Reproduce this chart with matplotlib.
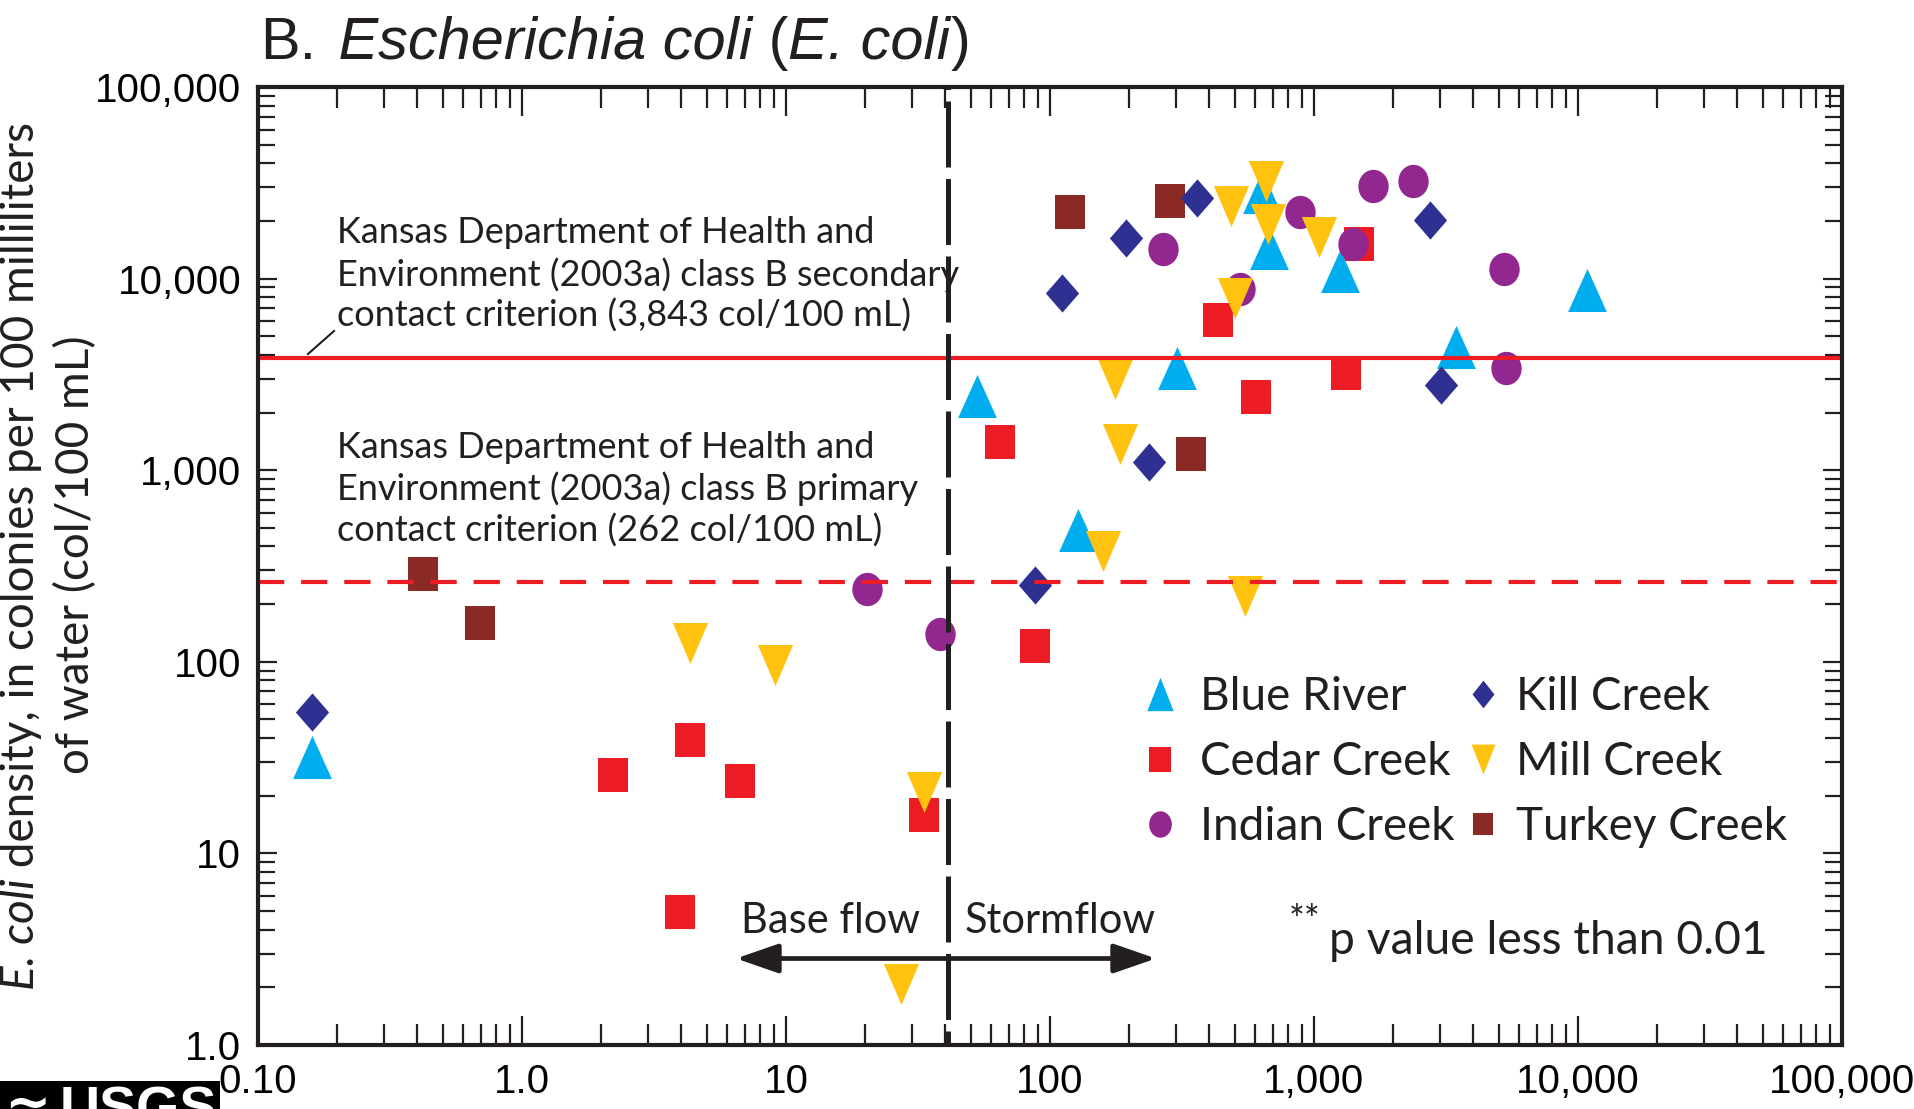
import matplotlib
matplotlib.use("Agg")
import numpy as np
import matplotlib.pyplot as plt
from matplotlib.lines import Line2D
from matplotlib.patches import FancyArrowPatch, Rectangle
from matplotlib.ticker import FixedLocator, FixedFormatter, LogLocator, NullFormatter

W, H = 1915, 1109

# Streamflow (ft3/s) and E. coli density (col/100 mL) by site
blue_river_q = [0.16, 52.9, 128, 302, 635, 673, 1250, 3450, 10800]
blue_river_ecoli = [32, 2440, 488, 3430, 28200, 14500, 11000, 4380, 8740]

cedar_creek_q = [2.22, 4.33, 6.67, 3.98, 33.3, 64.8, 87.4, 431, 604, 1320, 1476]
cedar_creek_ecoli = [25.8, 38.9, 23.9, 4.96, 15.8, 1410, 121, 6070, 2420, 3210, 15100]

indian_creek_q = [20.2, 38.3, 268, 526, 882, 1405, 1666, 2370, 5230, 5340]
indian_creek_ecoli = [241, 140, 14300, 8800, 22300, 15100, 30500, 32400, 11200, 3410]

kill_creek_q = [0.16, 87.4, 110.6, 194.6, 237.7, 360, 2757, 3038]
kill_creek_ecoli = [54.7, 251, 8400, 16200, 1105, 26500, 20300, 2780]

mill_creek_q = [4.33, 9.08, 33.3, 27.3, 158.8, 175.6, 183.5, 485, 503, 549, 657, 669, 1047]
mill_creek_ecoli = [125, 96.2, 21.0, 2.07, 379, 2990, 1373, 24000, 7960, 220, 32400, 19250, 16400]

turkey_creek_q = [0.423, 0.695, 118.7, 285, 342]
turkey_creek_ecoli = [288, 160, 22300, 25500, 1216]

SECONDARY_CRITERION = 3843
PRIMARY_CRITERION = 262
FLOW_BOUNDARY = 41

x_ticks = [0.1, 1, 10, 100, 1000, 10000, 100000]
x_tick_labels = ["0.10", "1.0", "10", "100", "1,000", "10,000", "100,000"]
y_ticks = [1, 10, 100, 1000, 10000, 100000]
y_tick_labels = ["1.0", "10", "100", "1,000", "10,000", "100,000"]

BLUE, RED, PURPLE = "#00AEEF", "#ED1C24", "#92278F"
NAVY, YELLOW, BROWN = "#2E3192", "#FFC20E", "#8B2A25"
INK = "#231F20"

plt.rcParams["font.family"] = ["Liberation Sans", "DejaVu Sans"]
SANS = ["Lato", "DejaVu Sans"]


def tri_up(w):
    return [(0, 1), (-w, -1), (w, -1)]


def tri_down(w):
    return [(0, -1), (-w, 1), (w, 1)]


def box(w):
    return [(-w, -1), (w, -1), (w, 1), (-w, 1)]


def rhombus(w):
    return [(0, 1), (w, 0), (0, -1), (-w, 0)]


def oval(w):
    t = np.linspace(0, 2 * np.pi, 64)
    return list(zip(w * np.cos(t), np.sin(t)))


def fx(px):
    return px / W


def fy(py):
    return 1 - py / H


fig = plt.figure(figsize=(W / 100, H / 100), dpi=100)
fig.patch.set_facecolor("white")
ax = fig.add_axes([fx(258), fy(1045), (1842 - 258) / W, (1045 - 87) / H])
ax.set_xscale("log")
ax.set_yscale("log")
ax.set_xlim(0.1, 100000)
ax.set_ylim(1, 100000)

# sites: (q, ecoli, color, plot marker, plot size, legend marker, legend size)
sites = {
    "Blue River": (blue_river_q, blue_river_ecoli, BLUE, tri_up(0.9), 31, tri_up(0.79), 24),
    "Cedar Creek": (cedar_creek_q, cedar_creek_ecoli, RED, box(0.91), 24, box(0.88), 18),
    "Indian Creek": (indian_creek_q, indian_creek_ecoli, PURPLE, oval(0.91), 24, oval(0.86), 19),
    "Kill Creek": (kill_creek_q, kill_creek_ecoli, NAVY, rhombus(0.87), 27.5, rhombus(0.79), 20),
    "Mill Creek": (mill_creek_q, mill_creek_ecoli, YELLOW, tri_down(0.86), 29.5, tri_down(0.8), 21.5),
    "Turkey Creek": (turkey_creek_q, turkey_creek_ecoli, BROWN, box(0.91), 24, box(0.91), 16.5),
}

draw_order = ["Cedar Creek", "Blue River", "Indian Creek", "Turkey Creek", "Kill Creek", "Mill Creek"]
for z, name in enumerate(draw_order):
    q, e, c, m, ms, _, _ = sites[name]
    ax.plot(q, e, linestyle="none", marker=m, markersize=ms, color=c,
            markeredgewidth=0, zorder=3 + 0.1 * z, clip_on=False)

# recreational contact criteria
ax.axhline(SECONDARY_CRITERION, color=RED, lw=3, zorder=4)
ax.axhline(PRIMARY_CRITERION, color=RED, lw=3, linestyle=(0, (6.3, 4.05)), zorder=4)

# base flow / stormflow boundary
ax.axvline(FLOW_BOUNDARY, color=INK, lw=3.6, linestyle=(10.4, (13.2, 2.3)), zorder=5)

# axes styling
for sp in ax.spines.values():
    sp.set_linewidth(3)
    sp.set_color(INK)
    sp.set_zorder(6)

ax.xaxis.set_major_locator(FixedLocator(x_ticks))
ax.xaxis.set_major_formatter(FixedFormatter(x_tick_labels))
ax.yaxis.set_major_locator(FixedLocator(y_ticks))
ax.yaxis.set_major_formatter(FixedFormatter(y_tick_labels))
ax.xaxis.set_minor_locator(LogLocator(base=10, subs=np.arange(2, 10), numticks=20))
ax.yaxis.set_minor_locator(LogLocator(base=10, subs=np.arange(2, 10), numticks=20))
ax.xaxis.set_minor_formatter(NullFormatter())
ax.yaxis.set_minor_formatter(NullFormatter())
ax.tick_params(which="both", direction="in", top=True, right=True, color=INK)
ax.tick_params(axis="x", which="major", length=21, width=1.6, pad=13, labelsize=29)
ax.tick_params(axis="x", which="minor", length=15, width=1.6)
ax.tick_params(axis="y", which="major", length=14, width=1.6, pad=12, labelsize=29)
ax.tick_params(axis="y", which="minor", length=12, width=1.6)

# criterion notes
note_kw = dict(fontsize=26, family=SANS, color=INK, ha="left", va="baseline")
secondary_lines = ["Kansas Department of Health and",
                   "Environment (2003a) class B secondary",
                   "contact criterion (3,843 col/100 mL)"]
primary_lines = ["Kansas Department of Health and",
                 "Environment (2003a) class B primary",
                 "contact criterion (262 col/100 mL)"]
for s, yb in zip(secondary_lines, [243, 286, 327]):
    fig.text(fx(337), fy(yb), s, **note_kw)
for s, yb in zip(primary_lines, [458, 500, 542]):
    fig.text(fx(337), fy(yb), s, **note_kw)
fig.add_artist(Line2D([fx(308), fx(334)], [fy(354), fy(331)], color=INK, lw=1.5))

# flow regime arrow and labels
arrow = FancyArrowPatch((fx(736), fy(958.5)), (fx(1156), fy(958.5)),
                        transform=fig.transFigure,
                        arrowstyle="<|-|>,head_length=26,head_width=9",
                        mutation_scale=1, lw=3.4, color=INK, shrinkA=0, shrinkB=0, zorder=6)
fig.add_artist(arrow)
fig.text(fx(920), fy(933), "Base flow", fontsize=30, family=SANS, color=INK, ha="right", va="baseline")
fig.text(fx(965), fy(933), "Stormflow", fontsize=30, family=SANS, color=INK, ha="left", va="baseline")
fig.text(fx(1289), fy(904), "**", fontsize=27, family=SANS, color=INK, ha="left", va="top")
fig.text(fx(1329), fy(954), "p value less than 0.01", fontsize=33.3, family=SANS, color=INK,
         ha="left", va="baseline")


# legend, two columns
def handle(name):
    q, e, c, m, ms, lm, lms = sites[name]
    return Line2D([], [], linestyle="none", marker=lm, markersize=lms, color=c, markeredgewidth=0)


LEG_SIZE = 33
hl = 0.8 * LEG_SIZE * 100 / 72
leg_kw = dict(loc="center left", frameon=False, borderpad=0, borderaxespad=0,
              handlelength=0.8, labelspacing=0.5,
              prop={"family": SANS, "size": LEG_SIZE})
col1 = ["Blue River", "Cedar Creek", "Indian Creek"]
col2 = ["Kill Creek", "Mill Creek", "Turkey Creek"]
for names, xc, pad in [(col1, 1160, 0.48), (col2, 1483, 0.32)]:
    leg = fig.legend([handle(n) for n in names], names, handletextpad=pad,
                     bbox_to_anchor=(fx(xc - hl / 2), fy(762)), **leg_kw)
    for t in leg.get_texts():
        t.set_color(INK)

renderer = fig.canvas.get_renderer()


def chain(pieces, x_px, y_px, rotation=0, center=False, **kw):
    texts = []
    lengths = []
    for s, style, gap in pieces:
        t = fig.text(0, 0, s, rotation=rotation, rotation_mode="anchor",
                     ha="left", va="baseline", style=style, **kw)
        bb = t.get_window_extent(renderer)
        texts.append((t, gap))
        lengths.append((bb.height if rotation == 90 else bb.width) + gap)
    total = sum(lengths)
    if rotation == 90:
        pos = y_px + total / 2 if center else y_px
        for (t, gap), L in zip(texts, lengths):
            pos -= gap
            t.set_position((fx(x_px), fy(pos)))
            pos -= L - gap
    else:
        pos = x_px - total / 2 if center else x_px
        for (t, gap), L in zip(texts, lengths):
            pos += gap
            t.set_position((fx(pos), fy(y_px)))
            pos += L - gap
    return texts


# title
chain([("B.", "normal", 0), (" Escherichia coli", "italic", 6), (" (", "normal", 0),
       ("E. coli", "italic", 0), (")", "normal", 0)],
      260, 58.6, fontsize=42.8, color=INK)

# y-axis title
chain([("E. coli", "italic", 0), (" density, in colonies per 100 milliliters", "normal", 0)],
      34, 556, rotation=90, center=True, fontsize=33, family=SANS, color=INK)
chain([("of water (col/100 mL)", "normal", 0)],
      89, 555, rotation=90, center=True, fontsize=33, family=SANS, color=INK)

# publisher mark in the corner
fig.add_artist(Rectangle((0, 0), fx(220), 28 / H, transform=fig.transFigure,
                         facecolor="black", edgecolor="none"))
fig.text(fx(4), fy(1084), "\u2248", fontsize=40, fontweight="bold", color="white",
         family=["DejaVu Sans"], ha="left", va="top")
fig.text(fx(60), fy(1086), "USGS", fontsize=40, fontweight="bold", color="white",
         ha="left", va="top")

fig.savefig("out.png", dpi=100)
